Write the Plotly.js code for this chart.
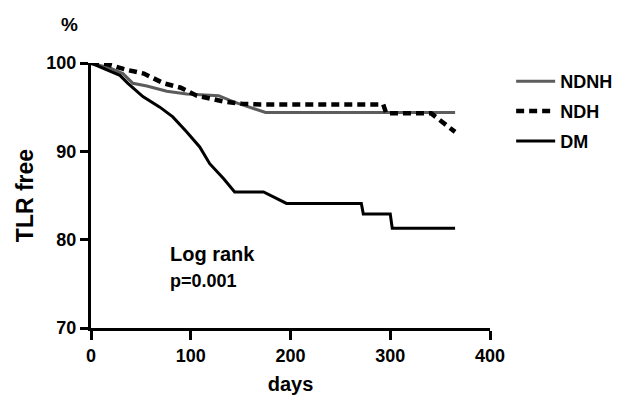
<!DOCTYPE html>
<html>
<head>
<meta charset="utf-8">
<script src="https://cdn.plot.ly/plotly-3.0.1.min.js"></script>
<style>html,body{margin:0;padding:0;background:#fff;}#chart{width:624px;height:395px;}</style>
</head>
<body>
<div id="chart"></div>
<script>
// Series names
const seriesNames = ["NDNH", "NDH", "DM"];

// NDNH (grey solid)
const ndnhDays = [0, 20, 32, 42, 56, 76, 96, 128, 143, 175, 365];
const ndnhFree = [100, 99.4, 98.8, 97.7, 97.4, 96.8, 96.5, 96.3, 95.6, 94.4, 94.4];

// NDH (black dashed)
const ndhDays = [0, 15, 37, 53, 73, 90, 106, 121, 135, 151, 170, 293, 296, 341, 365];
const ndhFree = [100, 99.9, 99.2, 98.8, 97.7, 97.2, 96.3, 95.9, 95.6, 95.4, 95.3, 95.3, 94.3, 94.3, 92.2];

// DM (black solid)
const dmDays = [0, 29, 37, 52, 69, 82, 96, 109, 119, 133, 144, 173, 196, 271, 273, 300, 302, 365];
const dmFree = [100, 98.6, 97.7, 96.2, 95.0, 93.9, 92.2, 90.5, 88.6, 86.9, 85.4, 85.4, 84.1, 84.1, 82.9, 82.9, 81.3, 81.3];

const xTicks = [0, 100, 200, 300, 400];
const yTicks = [70, 80, 90, 100];

const FONT = "Liberation Sans, Arial, Helvetica, sans-serif";

const traces = [
  {x: ndnhDays, y: ndnhFree, name: seriesNames[0], legendgroup: "a", mode: "lines",
   line: {color: "#5c5c5c", width: 3}},
  {x: ndhDays, y: ndhFree, name: seriesNames[1], legendgroup: "b", mode: "lines",
   line: {color: "#000", width: 4.5, dash: "8px,5px"}},
  {x: dmDays, y: dmFree, name: seriesNames[2], legendgroup: "c", mode: "lines",
   line: {color: "#000", width: 3}}
];

const layout = {
  width: 624, height: 395,
  margin: {l: 91, r: 134, t: 63, b: 67, autoexpand: false},
  paper_bgcolor: "#fff", plot_bgcolor: "#fff",
  font: {family: FONT, color: "#000"},
  showlegend: true,
  legend: {x: 1.053, xanchor: "left", y: 1.0, yanchor: "top",
    font: {family: FONT, size: 18, color: "#000", weight: "bold"},
    itemwidth: 39, tracegroupgap: 3.5, bgcolor: "rgba(0,0,0,0)"},
  xaxis: {range: [0, 400], tickvals: xTicks, ticktext: xTicks.map(String),
    showgrid: false, zeroline: false, showline: true, linewidth: 3, linecolor: "#000",
    ticks: "outside", ticklen: 9, tickwidth: 3, tickcolor: "#000",
    tickfont: {family: FONT, size: 18, weight: "bold"},
    title: {text: "days", font: {family: FONT, size: 20, weight: "bold"}, standoff: 16}},
  yaxis: {range: [70, 100], tickvals: yTicks, ticktext: yTicks.map(String),
    showgrid: false, zeroline: false, showline: true, linewidth: 3, linecolor: "#000",
    ticks: "outside", ticklen: 8, tickwidth: 3, tickcolor: "#000",
    tickfont: {family: FONT, size: 18, weight: "bold"},
    title: {text: "TLR free", font: {family: FONT, size: 23, weight: "bold"}, standoff: 7}},
  annotations: [
    {text: "%", xref: "paper", yref: "paper", x: -0.053, y: 1.147, xanchor: "center", yanchor: "middle",
     showarrow: false, font: {family: FONT, size: 19, weight: "bold"}},
    {text: "Log rank", xref: "paper", yref: "paper", x: 0.193, y: 0.279, xanchor: "left", yanchor: "middle",
     showarrow: false, font: {family: FONT, size: 20, weight: "bold"}},
    {text: "p=0.001", xref: "paper", yref: "paper", x: 0.193, y: 0.177, xanchor: "left", yanchor: "middle",
     showarrow: false, font: {family: FONT, size: 18, weight: "bold"}}
  ]
};

Plotly.newPlot("chart", traces, layout, {displayModeBar: false, staticPlot: true});
</script>
</body>
</html>
